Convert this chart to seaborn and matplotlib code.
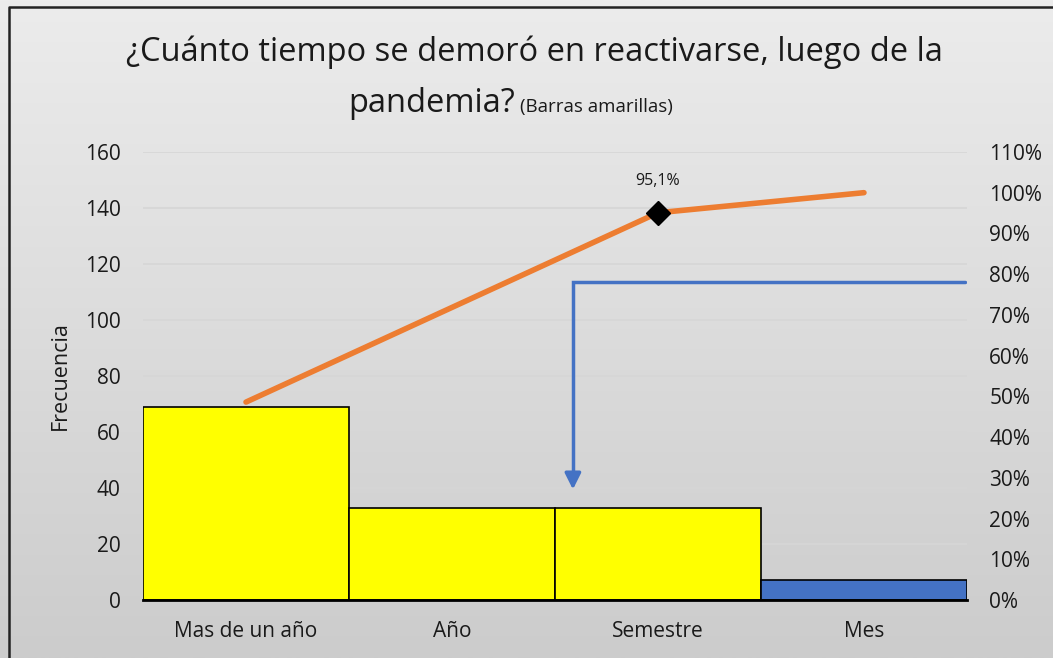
import numpy as np
import matplotlib
matplotlib.use("Agg")
import matplotlib.pyplot as plt
import seaborn as sns
from matplotlib.ticker import PercentFormatter

# datos
categorias = ["Mas de un año", "Año", "Semestre", "Mes"]
frecuencia = [69, 33, 33, 7]
colores = ["#FFFF00", "#FFFF00", "#FFFF00", "#4472C4"]
acumulado = np.cumsum(frecuencia) / np.sum(frecuencia)
punto_marcado = 2  # Semestre (95,1%)

sns.set_theme(style="white")
plt.rcParams["font.family"] = ["Open Sans", "DejaVu Sans"]

fig = plt.figure(figsize=(10.53, 6.58), dpi=100)

# fondo degradado + borde
bg = fig.add_axes([0, 0, 1, 1], zorder=-10)
grad = np.linspace(0, 1, 256).reshape(-1, 1)
bg.imshow(grad, aspect="auto", cmap=matplotlib.colors.LinearSegmentedColormap.from_list(
    "g", ["#ececec", "#cccccc"]), extent=[0, 1, 0, 1])
bg.plot([0.0085, 0.0085, 1.0], [0.0, 0.9895, 0.9895], color="#222222", lw=1.8)
bg.set_xlim(0, 1); bg.set_ylim(0, 1)
bg.axis("off")

ax = fig.add_axes([0.1358, 0.0881, 0.7825, 0.681])
ax.patch.set_alpha(0)
sns.barplot(x=categorias, y=frecuencia, hue=categorias, palette=colores, legend=False,
            width=1.0, edgecolor="black", linewidth=1.2, ax=ax, saturation=1)
ax.set_xlim(-0.5, 3.5)
ax.set_ylim(0, 160)
ax.set_yticks(range(0, 161, 20))
ax.yaxis.grid(True, color="#d6d6d6", lw=1.2)
ax.set_axisbelow(True)
for s in ["top", "right", "left"]:
    ax.spines[s].set_visible(False)
ax.spines["bottom"].set_color("black")
ax.spines["bottom"].set_linewidth(2)
ax.tick_params(axis="both", length=0, labelsize=15, colors="#1a1a1a")
ax.tick_params(axis="y", pad=16)
ax.tick_params(axis="x", pad=15)
ax.set_xlabel("")
ax.set_ylabel("Frecuencia", fontsize=15.5, color="#1a1a1a", labelpad=10)

# eje secundario con el acumulado
ax2 = ax.twinx()
sns.lineplot(x=np.arange(len(categorias)), y=acumulado, ax=ax2, color="#ED7D31",
             lw=4, solid_capstyle="round")
ax2.plot(punto_marcado, acumulado[punto_marcado], marker="D", ms=12, color="black", zorder=5)
ax2.annotate(f"{acumulado[punto_marcado]*100:.1f}%".replace(".", ","),
             (punto_marcado, acumulado[punto_marcado]), xytext=(0, 17),
             textcoords="offset points", ha="center", va="bottom", fontsize=11.5, color="#1a1a1a")
ax2.set_ylim(0, 1.1)
ax2.set_yticks(np.arange(0, 1.11, 0.1))
ax2.yaxis.set_major_formatter(PercentFormatter(1.0, decimals=0))
ax2.tick_params(axis="y", length=0, labelsize=15, colors="#1a1a1a", pad=16)
for s in ax2.spines.values():
    s.set_visible(False)
ax2.set_xlim(-0.5, 3.5)

# flecha azul (corte 80%)
flecha_x, flecha_y0, flecha_y1 = 1.587, 113.6, 39.5
ax.plot([3.49, flecha_x, flecha_x], [flecha_y0, flecha_y0, flecha_y1 + 5],
        color="#4472C4", lw=2.5, solid_joinstyle="miter", zorder=6)
ax.annotate("", xy=(flecha_x, flecha_y1 - 1), xytext=(flecha_x, flecha_y1 + 6),
            arrowprops=dict(arrowstyle="-|>,head_width=0.4,head_length=0.8",
                            color="#4472C4", lw=2.5), zorder=6)

# titulo
fig.text(0.508, 0.921, "¿Cuánto tiempo se demoró en reactivarse, luego de la",
         ha="center", va="center", fontsize=23.5, color="#1a1a1a")
fig.text(0.489, 0.830, "pandemia?", ha="right", va="baseline", fontsize=23.5, color="#1a1a1a")
fig.text(0.494, 0.830, "(Barras amarillas)", ha="left", va="baseline", fontsize=13.5, color="#1a1a1a")

plt.savefig("out.png", dpi=100)
